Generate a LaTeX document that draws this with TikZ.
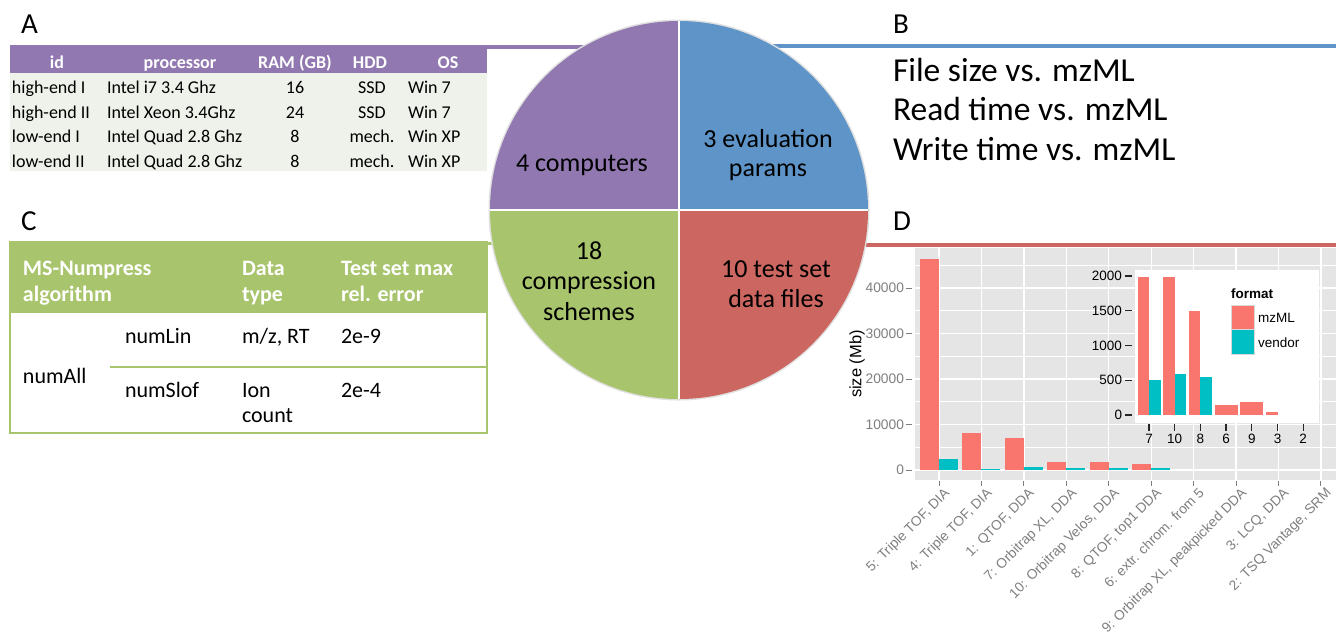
\documentclass[tikz,border=0pt]{standalone}
\usepackage{fontspec}
\setmainfont{Carlito}
\newfontfamily\arialf{Liberation Sans}
\definecolor{pieP}{RGB}{145,120,176}
\definecolor{pieB}{RGB}{95,148,200}
\definecolor{pieG}{RGB}{168,196,108}
\definecolor{pieR}{RGB}{204,102,96}
\definecolor{tabA}{RGB}{239,242,234}
\definecolor{panelG}{RGB}{229,229,229}
\definecolor{mzC}{RGB}{248,118,109}
\definecolor{vdC}{RGB}{0,191,196}
\definecolor{axG}{RGB}{127,127,127}
\begin{document}
\begin{tikzpicture}[x=1pt,y=-1pt,
  every node/.style={inner sep=0pt, outer sep=0pt},
  lbl/.style={font=\fontsize{29}{29}\selectfont, anchor=base west},
  btxt/.style={font=\fontsize{33.5}{33.5}\selectfont, anchor=base west},
  ta/.style={font=\fontsize{18}{18}\selectfont, anchor=base west},
  tac/.style={font=\fontsize{18}{18}\selectfont, anchor=base},
  tah/.style={font=\fontsize{18}{18}\selectfont\bfseries, text=white, anchor=base},
  tc/.style={font=\fontsize{22}{22}\selectfont, anchor=base west},
  tch/.style={font=\fontsize{22}{22}\selectfont\bfseries, text=white, anchor=base west},
  pie/.style={font=\fontsize{26}{26}\selectfont, anchor=base},
  axl/.style={font=\arialf\fontsize{13.8}{13.8}\selectfont, text=axG},
  inl/.style={font=\arialf\fontsize{13.5}{13.5}\selectfont, text=black},
]
\useasboundingbox (0,0) rectangle (1336,633);
\fill[white] (0,0) rectangle (1336,633);

% ---------- coloured bands behind the pie ----------
\fill[pieP] (487,45) rectangle (680,49);
\fill[pieB] (680,44) rectangle (1336,47.5);
\fill[pieG] (487,242) rectangle (680,245);
\fill[pieR] (680,243) rectangle (1336,246.5);

% ---------- labels ----------
\node[lbl] (labA) at (21,33) {A};
\node[lbl] (labB) at (893,33) {B};
\node[lbl] (labC) at (21,230) {C};
\node[lbl] (labD) at (893,230) {D};

% ---------- table A ----------
\fill[pieP] (10,45) rectangle (487,73);
\fill[tabA] (10,73) rectangle (487,171);
\node[tah] (hId) at (57,68) {id};
\node[tah] (hProc) at (180,68) {processor};
\node[tah] (hRam) at (295,68) {RAM (GB)};
\node[tah] (hHdd) at (370,68) {HDD};
\node[tah] (hOs) at (448,68) {OS};
\foreach \n/\id/\pr/\ram/\hdd/\os/\yy in {
  1/high-end I/Intel i7 3.4 Ghz/16/SSD/Win 7/93,
  2/high-end II/Intel Xeon 3.4Ghz/24/SSD/Win 7/118,
  3/low-end I/Intel Quad 2.8 Ghz/8/mech./Win XP/142,
  4/low-end II/Intel Quad 2.8 Ghz/8/mech./Win XP/167}{
  \node[ta] (id\n) at (12,\yy) {\id};
  \node[ta] (pr\n) at (107,\yy) {\pr};
  \node[tac] (ram\n) at (295,\yy) {\ram};
  \node[tac] (hdd\n) at (372,\yy) {\hdd};
  \node[ta] (os\n) at (408,\yy) {\os};
}

% ---------- table C ----------
\fill[pieG] (10,242) rectangle (487,313);
\draw[pieG, line width=2] (10,242) rectangle (487,433);
\draw[pieG, line width=1.5] (110,367) -- (487,367);
\node[tch] (cH1a) at (23,275) {MS-Numpress};
\node[tch] (cH1b) at (23,301) {algorithm};
\node[tch] (cH2a) at (242,275) {Data};
\node[tch] (cH2b) at (242,301) {type};
\node[tch] (cH3a) at (341,275) {Test set max};
\node[tch] (cH3b) at (341,301) {rel. error};
\node[tc] (cAll) at (23,383) {numAll};
\node[tc] (cLin) at (125,343) {numLin};
\node[tc] (cLinT) at (242,343) {m/z, RT};
\node[tc] (cLinE) at (341,343) {2e-9};
\node[tc] (cSlof) at (125,397) {numSlof};
\node[tc] (cSlofT) at (242,397) {Ion};
\node[tc] (cSlofT2) at (242,422) {count};
\node[tc] (cSlofE) at (341,397) {2e-4};

% ---------- B text ----------
\node[btxt] (b1) at (893,81) {File size vs. mzML};
\node[btxt] (b2) at (893,120) {Read time vs. mzML};
\node[btxt] (b3) at (893,160) {Write time vs. mzML};

% ---------- pie ----------
\coordinate (pc) at (679,210);
\fill[black!12] (pc) circle[radius=190.5pt];
\begin{scope}\clip (450,0) rectangle (679,210); \fill[pieP] (pc) circle[radius=189pt]; \end{scope}
\begin{scope}\clip (679,0) rectangle (900,210); \fill[pieB] (pc) circle[radius=189pt]; \end{scope}
\begin{scope}\clip (450,210) rectangle (679,420); \fill[pieG] (pc) circle[radius=189pt]; \end{scope}
\begin{scope}\clip (679,210) rectangle (900,420); \fill[pieR] (pc) circle[radius=189pt]; \end{scope}
\draw[white, line width=2] (679,21) -- (679,399);
\draw[white, line width=2] (490,210) -- (868,210);
\node[pie] (p1) at (582,171) {4 computers};
\node[pie] (p2a) at (768,147) {3 evaluation};
\node[pie] (p2b) at (768,176) {params};
\node[pie] (p3a) at (589,259) {18};
\node[pie] (p3b) at (589,289) {compression};
\node[pie] (p3c) at (589,320) {schemes};
\node[pie] (p4a) at (776,277) {10 test set};
\node[pie] (p4b) at (776,307) {data files};

% ---------- chart D: main panel ----------
\begin{scope}
\clip (915,248) rectangle (1336,480);
\fill[panelG] (915,248) rectangle (1336,480);
\foreach \yy in {447.25,401.75,356.25,310.75,265.25}
  \draw[white, line width=0.6] (915,\yy) -- (1336,\yy);
\foreach \yy in {470,424.5,379,333.5,288}
  \draw[white, line width=1.3] (915,\yy) -- (1336,\yy);
\foreach \i in {0,...,9}
  \draw[white, line width=1.3] ({939+42.44*\i},248) -- ({939+42.44*\i},480);
\foreach \i/\m/\v in {0/259/459, 1/433/469, 2/438/467.3, 3/462/468.2, 4/462/467.7, 5/464/468}{
  \fill[mzC] ({939+42.44*\i-19},470) rectangle ({939+42.44*\i},\m);
  \fill[vdC] ({939+42.44*\i},470) rectangle ({939+42.44*\i+19},\v);
}

% inset
\fill[white] (1135,270) rectangle (1319,423);
\foreach \i/\m/\v in {0/276.7/380, 1/277.4/374, 2/311/377}{
  \fill[mzC] ({1149+25.7*\i-11.5},415) rectangle ({1149+25.7*\i},\m);
  \fill[vdC] ({1149+25.7*\i},415) rectangle ({1149+25.7*\i+11.5},\v);
}
\fill[mzC] ({1149+25.7*3-11.5},415) rectangle ({1149+25.7*3+11.5},404.6);
\fill[mzC] ({1149+25.7*4-11.5},415) rectangle ({1149+25.7*4+11.5},402);
\fill[mzC] ({1149+25.7*5-11.5},415) rectangle ({1149+25.7*5},412);
\foreach \v/\yy in {0/415,500/380.25,1000/345.5,1500/310.75,2000/276}{
  \draw[black!85, line width=1.3] (1125,\yy) -- (1132,\yy);
  \node[inl, anchor=east] (iy\v) at (1122,\yy) {\v};
}
\foreach \i/\t in {0/7,1/10,2/8,3/6,4/9,5/3,6/2}{
  \draw[black!85, line width=1.3] ({1149+25.7*\i},424) -- ({1149+25.7*\i},431);
  \node[inl, anchor=base] (ix\i) at ({1149+25.7*\i},443) {\t};
}
% legend
\node[inl, anchor=base west, font=\arialf\bfseries\fontsize{13.5}{13.5}\selectfont] (lgT) at (1231,298) {format};
\fill[mzC, draw=black!15] (1231,305) rectangle (1254,329);
\fill[vdC, draw=black!15] (1231,329) rectangle (1254,354);
\node[inl, anchor=base west] (lg1) at (1258,322) {mzML};
\node[inl, anchor=base west] (lg2) at (1258,347) {vendor};
\end{scope}

% main axes
\foreach \v/\yy in {0/470,10000/424.5,20000/379,30000/333.5,40000/288}{
  \draw[axG, line width=1] (906,\yy) -- (912,\yy);
  \node[axl, anchor=east] (my\v) at (904,\yy) {\v};
}
\node[font=\arialf\fontsize{16.5}{16.5}\selectfont, rotate=90] (ylab) at (857,364) {size (Mb)};
\foreach \i/\t in {0/{5: Triple TOF, DIA},1/{4: Triple TOF, DIA},2/{1: QTOF, DDA},3/{7: Orbitrap XL, DDA},4/{10: Orbitrap Velos, DDA},5/{8: QTOF, top1 DDA},6/{6: extr. chrom. from 5},7/{9: Orbitrap XL, peakpicked DDA},8/{3: LCQ, DDA},9/{2: TSQ Vantage, SRM}}{
  \draw[axG, line width=1] ({939+42.44*\i},481) -- ({939+42.44*\i},486);
  \node[axl, rotate=45, anchor=north east] (mx\i) at ({939+42.44*\i+4},487) {\t};
}
\end{tikzpicture}
\end{document}
